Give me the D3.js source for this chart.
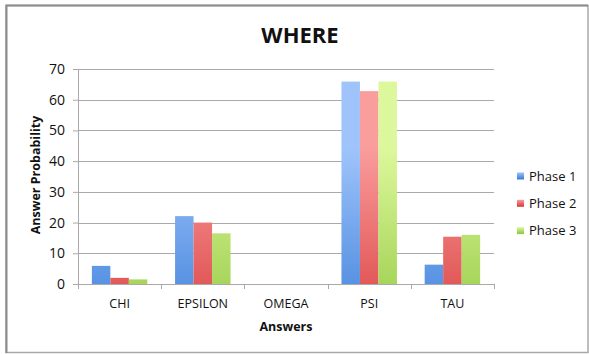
<!DOCTYPE html>
<html>
<head>
<meta charset="utf-8">
<script src="https://cdn.jsdelivr.net/npm/d3@7"></script>
<style>
  html, body { margin: 0; padding: 0; background: #fff; }
  svg { display: block; }
  text { font-family: "Open Sans", "Lato", sans-serif; fill: #111; }
</style>
</head>
<body>
<svg id="chart" width="589" height="354"></svg>
<script>
// Answer categories and per-phase probabilities
const categories = ["CHI", "EPSILON", "OMEGA", "PSI", "TAU"];
const seriesNames = ["Phase 1", "Phase 2", "Phase 3"];
const phase1 = [5.9, 22.1, 0, 65.9, 6.3];
const phase2 = [2.0, 20.0, 0, 62.8, 15.4];
const phase3 = [1.5, 16.5, 0, 65.9, 16.0];
const yTicks = [0, 10, 20, 30, 40, 50, 60, 70];

const seriesValues = [phase1, phase2, phase3];
const colorsTop = ["#9fc4fb", "#fa9d9d", "#ddf89c"];
const colorsBottom = ["#3479d6", "#d63636", "#8cc43a"];

const svg = d3.select("#chart");
const margin = { left: 78, top: 69 };
const plotW = 494 - margin.left;
const plotH = 284 - margin.top;

// Outer frame
svg.append("rect")
  .attr("x", 6).attr("y", 5.5)
  .attr("width", 582).attr("height", 347)
  .attr("fill", "#fff")
  .attr("stroke", "#a8a8a8").attr("stroke-width", 1.5);
svg.append("path")
  .attr("d", "M6.5,353 V5.5 H588")
  .attr("fill", "none").attr("stroke", "#8c8c8c").attr("stroke-width", 2);

// Gradients for bars
const defs = svg.append("defs");
seriesNames.forEach((s, i) => {
  const g = defs.append("linearGradient")
    .attr("id", "grad" + i)
    .attr("gradientUnits", "userSpaceOnUse")
    .attr("x1", 0).attr("x2", 0)
    .attr("y1", margin.top + 10).attr("y2", margin.top + plotH);
  g.append("stop").attr("offset", "0%").attr("stop-color", colorsTop[i]);
  g.append("stop").attr("offset", "100%").attr("stop-color", colorsBottom[i]);
  const lg = defs.append("linearGradient")
    .attr("id", "lgrad" + i)
    .attr("x1", 0).attr("x2", 0).attr("y1", 0).attr("y2", 1);
  lg.append("stop").attr("offset", "0%").attr("stop-color", colorsTop[i]);
  lg.append("stop").attr("offset", "100%").attr("stop-color", colorsBottom[i]);
});

const g = svg.append("g").attr("transform", `translate(${margin.left},${margin.top})`);

const y = d3.scaleLinear().domain([0, 70]).range([plotH, 0]);
const x0 = d3.scaleBand().domain(categories).range([0, plotW]).paddingInner(0).paddingOuter(0);
const groupW = x0.bandwidth() * 3 / 4.5;
const x1 = d3.scaleBand().domain(d3.range(seriesNames.length)).range([0, groupW]).padding(0);

// Gridlines
g.append("g")
  .selectAll("line")
  .data(yTicks)
  .join("line")
  .attr("x1", 0).attr("x2", plotW)
  .attr("y1", d => Math.round(y(d)) + 0.5).attr("y2", d => Math.round(y(d)) + 0.5)
  .attr("stroke", "#a9a9a9").attr("stroke-width", 1);

// Y axis
const yAxis = g.append("g")
  .call(d3.axisLeft(y).tickValues(yTicks).tickSize(5).tickPadding(8));
yAxis.select(".domain").attr("stroke", "#a9a9a9");
yAxis.selectAll(".tick line").attr("stroke", "#a9a9a9");
yAxis.selectAll(".tick text")
  .style("font-family", '"Open Sans", sans-serif')
  .style("font-size", "14px").attr("fill", "#111");

// Bars
categories.forEach((c, ci) => {
  const gx = x0(c) + (x0.bandwidth() - groupW) / 2;
  seriesValues.forEach((vals, si) => {
    const v = vals[ci];
    if (v <= 0) return;
    g.append("rect")
      .attr("x", gx + x1(si))
      .attr("y", y(v))
      .attr("width", x1.bandwidth())
      .attr("height", y(0) - y(v))
      .attr("fill", `url(#grad${si})`);
  });
});

// X axis
const xAxis = g.append("g")
  .attr("transform", `translate(0,${plotH})`)
  .call(d3.axisBottom(x0).tickSize(0).tickPadding(15));
xAxis.select(".domain").attr("stroke", "#a9a9a9");
xAxis.selectAll(".tick text")
  .style("font-family", '"Open Sans", sans-serif')
  .style("font-size", "12.5px").attr("fill", "#111");
// category boundary ticks
g.append("g")
  .selectAll("line")
  .data(d3.range(categories.length + 1))
  .join("line")
  .attr("x1", d => Math.round(d * x0.step()) + 0.5)
  .attr("x2", d => Math.round(d * x0.step()) + 0.5)
  .attr("y1", plotH).attr("y2", plotH + 5)
  .attr("stroke", "#a9a9a9");

// Title
svg.append("text")
  .attr("x", 300).attr("y", 43)
  .attr("text-anchor", "middle")
  .style("font-size", "22px").style("font-weight", "bold")
  .text("WHERE");

// Axis titles
svg.append("text")
  .attr("x", margin.left + plotW / 2).attr("y", 331)
  .attr("text-anchor", "middle")
  .style("font-size", "12.5px").style("font-weight", "bold")
  .text("Answers");
svg.append("text")
  .attr("transform", `translate(40,175) rotate(-90)`)
  .attr("text-anchor", "middle")
  .style("font-size", "12.5px").style("font-weight", "bold")
  .text("Answer Probability");

// Legend
const legend = svg.append("g");
seriesNames.forEach((s, i) => {
  const ly = 176 + i * 27.3;
  legend.append("rect")
    .attr("x", 517).attr("y", ly - 3.5)
    .attr("width", 7).attr("height", 7)
    .attr("fill", `url(#lgrad${i})`);
  legend.append("text")
    .attr("x", 529).attr("y", ly)
    .attr("dy", "0.35em")
    .style("font-size", "13px")
    .text(s);
});
</script>
</body>
</html>
